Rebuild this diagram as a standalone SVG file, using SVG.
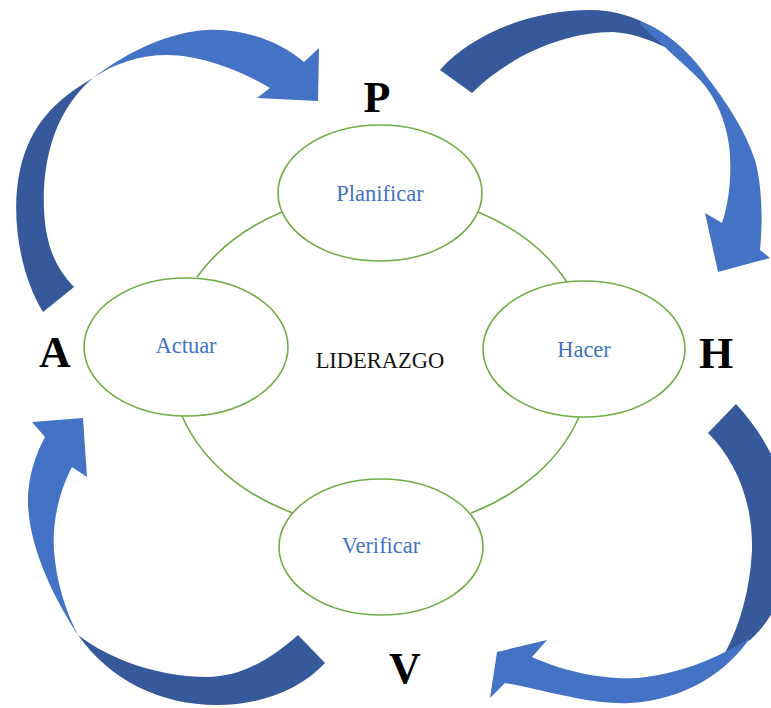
<svg xmlns="http://www.w3.org/2000/svg" width="771" height="708" viewBox="0 0 771 708">
<style>
.node{fill:#fff;stroke:#70AD47;stroke-width:1.6}
.link{fill:none;stroke:#70AD47;stroke-width:1.6}
.lbl{font-family:"Liberation Serif","Times New Roman",serif;font-size:22.5px;fill:#4472C4;text-anchor:middle}
.big{font-family:"Liberation Serif","Times New Roman",serif;font-size:44px;font-weight:bold;fill:#000;text-anchor:middle}
.light{fill:#4472C4}
.dark{fill:#35599A}
</style>
<rect width="771" height="708" fill="#fff"/>
<g id="connectors">
<path class="link" d="M282,212 A210,168 0 0 0 197,277"/>
<path class="link" d="M182,416 A210,168 0 0 0 293,513"/>
<path class="link" d="M471,513 A210,168 0 0 0 579,417"/>
<path class="link" d="M567,282 A210,168 0 0 0 478,212"/>
</g>
<g id="arrow-A-P">
<path class="dark" d="M43,312 C20,275 10,215 20,170 C30,125 55,100 93,78 C55,110 42,160 44,210 C46,250 58,270 74,287 Z"/>
<path class="light" d="M93,78 C130,50 170,32 207,30 C245,28 280,42 304,62 L319,48 L318,101 L257,98 L270,88 C240,70 200,55 167,55 C140,55 115,63 93,78 Z"/>
</g>
<g id="arrow-P-H">
<path class="dark" d="M440,70 C470,35 530,10 590,10 C615,10 635,17 650,26 L665,47 C650,40 632,33 613,32 C565,32 510,55 472,93 Z"/>
<path class="light" d="M640,21 C665,30 690,52 707,77 C725,100 745,130 755,160 C762,185 763,220 760,250 L770,258 L718,272 L705,213 L722,223 C730,200 732,170 729,145 C725,115 712,93 700,80 C685,65 665,48 640,24 Z"/>
</g>
<g id="arrow-H-V">
<path class="dark" d="M736,404 C765,435 790,480 790,530 C790,580 778,615 750,640 L725,653 C740,625 750,590 752,550 C753,500 735,460 708,433 Z"/>
<path class="light" d="M750,638 C727,672 685,700 630,703 C590,705 545,690 505,683 L490,698 L497,652 L547,640 L532,657 C560,670 600,680 637,678 C675,675 715,660 750,638 Z"/>
</g>
<g id="arrow-V-A">
<path class="dark" d="M78,635 C110,680 160,705 217,705 C260,705 300,690 325,663 L298,635 C270,660 240,677 207,677 C160,677 110,660 78,635 Z"/>
<path class="light" d="M78,635 C55,600 30,550 28,505 C27,480 35,455 45,437 L32,422 L83,418 L87,477 L72,467 C60,490 52,520 54,550 C56,580 65,610 78,635 Z"/>
</g>
<g id="node-planificar">
<ellipse class="node" cx="380" cy="193" rx="102" ry="68"/>
<text class="lbl" x="380" y="201">Planificar</text>
</g>
<g id="node-actuar">
<ellipse class="node" cx="186" cy="347" rx="102" ry="69"/>
<text class="lbl" x="186" y="353">Actuar</text>
</g>
<g id="node-hacer">
<ellipse class="node" cx="584" cy="349" rx="101" ry="68"/>
<text class="lbl" x="584" y="357">Hacer</text>
</g>
<g id="node-verificar">
<ellipse class="node" cx="381" cy="547" rx="102" ry="68"/>
<text class="lbl" x="381" y="553">Verificar</text>
</g>
<g id="center">
<text x="380" y="368" style="font-family:'Liberation Serif','Times New Roman',serif;font-size:22.5px;fill:#111;text-anchor:middle">LIDERAZGO</text>
</g>
<g id="letters">
<text class="big" x="377" y="112">P</text>
<text class="big" x="716" y="368">H</text>
<text class="big" x="405" y="683">V</text>
<text class="big" x="55" y="367">A</text>
</g>
</svg>
